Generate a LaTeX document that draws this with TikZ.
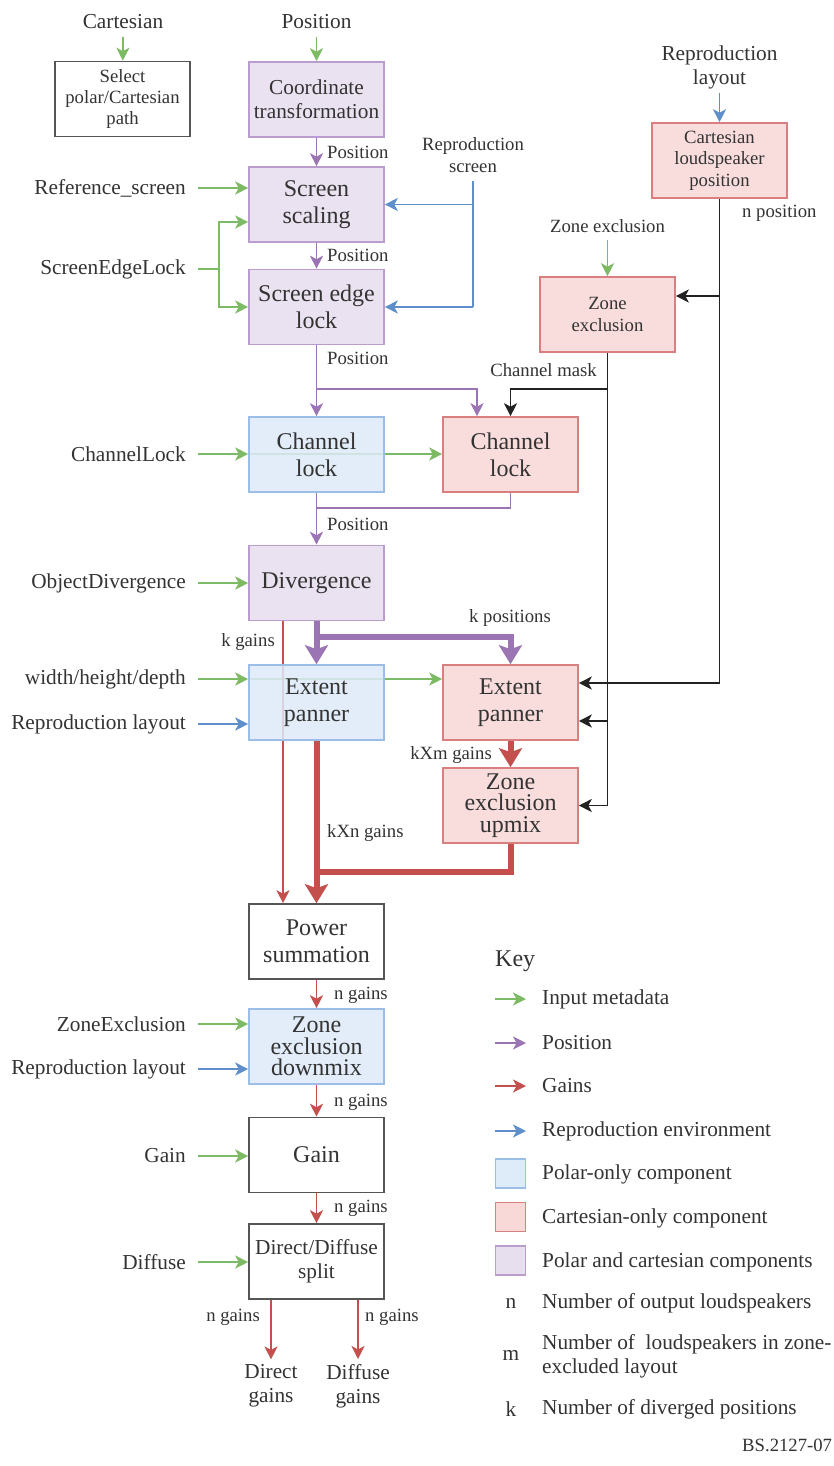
\documentclass[tikz,border=0pt]{standalone}
\usepackage{fontspec}
\setmainfont{Liberation Serif}
\usetikzlibrary{arrows.meta,backgrounds}

\definecolor{txt}{HTML}{333333}
\definecolor{gIn}{HTML}{7CBB63}
\definecolor{pPos}{HTML}{9B74B4}
\definecolor{rGain}{HTML}{C4504D}
\definecolor{bEnv}{HTML}{5E8FCB}
\definecolor{kBlk}{HTML}{222222}
\definecolor{polFill}{HTML}{DEEBF9}
\definecolor{polDraw}{HTML}{9CBDE5}
\definecolor{carFill}{HTML}{F9D8D8}
\definecolor{carDraw}{HTML}{DA7F7F}
\definecolor{bothFill}{HTML}{E7DEEE}
\definecolor{bothDraw}{HTML}{BA9CCD}
\definecolor{plainDraw}{HTML}{555555}

\newcommand\fBig{\fontsize{24}{26.7}\selectfont}
\newcommand\fTight{\fontsize{24}{21.7}\selectfont}
\newcommand\fMid{\fontsize{21.3}{24}\selectfont}
\newcommand\fSm{\fontsize{18.7}{21.3}\selectfont}

\tikzset{
  box/.style={rectangle, minimum width=135pt, minimum height=75pt, inner sep=0pt,
    align=center, line width=1.6pt, font=\fBig, text=txt,
    fill opacity=0.85, text opacity=1},
  polar/.style={box, draw=polDraw, fill=polFill},
  cart/.style={box, draw=carDraw, fill=carFill},
  both/.style={box, draw=bothDraw, fill=bothFill},
  plain/.style={box, draw=plainDraw, fill=white},
  swatch/.style={rectangle, minimum width=30pt, minimum height=29pt, inner sep=0pt, line width=1.6pt},
  lbl/.style={font=\fMid, text=txt, inner sep=0pt, align=center},
  slbl/.style={font=\fSm, text=txt, inner sep=0pt, align=center},
  thinline/.style={line width=1.8pt},
  arr/.style={thinline, -{Stealth[length=13pt,width=13pt,inset=3.5pt]}},
  fatline/.style={line width=6pt},
  fat/.style={fatline, -{Stealth[length=19pt,width=23pt,inset=4pt]}},
}

\begin{document}
\begin{tikzpicture}[x=1pt,y=-1pt]
\path[use as bounding box] (0,0) rectangle (833,1466);

% ---- processing blocks ----
\node[plain, font=\fSm] (pathsel) at (122.5,99) {Select\\polar/Cartesian\\path};
\node[both, font=\fMid] (coord) at (316.5,99.5) {Coordinate\\transformation};
\node[both] (scale) at (316.5,204.5) {Screen\\scaling};
\node[both] (edge) at (316.5,307) {Screen edge\\lock};
\node[polar] (chP) at (316.5,454.5) {Channel\\lock};
\node[cart] (chC) at (510.5,454.5) {Channel\\lock};
\node[both] (div) at (316.5,583) {Divergence};
\node[polar] (extP) at (316.5,702.5) {Extent\\panner};
\node[cart] (extC) at (510.5,702.5) {Extent\\panner};
\node[cart, font=\fTight] (upmix) at (510.5,805.5) {Zone\\exclusion\\upmix};
\node[plain] (psum) at (316.5,941.5) {Power\\summation};
\node[polar, font=\fTight] (dmix) at (316.5,1046.5) {Zone\\exclusion\\downmix};
\node[plain] (gain) at (316.5,1155) {Gain};
\node[plain, font=\fMid] (split) at (316.5,1261.5) {Direct/Diffuse\\split};
\node[cart, font=\fSm] (spk) at (719.5,160.5) {Cartesian\\loudspeaker\\position};
\node[cart, font=\fSm] (zexc) at (607.5,314.5) {Zone\\exclusion};

% ---- inputs ----
\node[lbl] (inCart) at (123,22) {Cartesian};
\node[lbl] (inPos) at (316.5,22) {Position};
\node[lbl, anchor=east] (inRef) at (186,188) {Reference\_screen};
\node[lbl, anchor=east] (inSEL) at (186,269) {ScreenEdgeLock};
\node[lbl, anchor=east] (inCL) at (186,454) {ChannelLock};
\node[lbl, anchor=east] (inOD) at (186,583) {ObjectDivergence};
\node[lbl, anchor=east] (inWHD) at (186,679) {width/height/depth};
\node[lbl, anchor=east] (inRL1) at (186,724) {Reproduction layout};
\node[lbl, anchor=east] (inZE) at (186,1024) {ZoneExclusion};
\node[lbl, anchor=east] (inRL2) at (186,1069) {Reproduction layout};
\node[lbl, anchor=east] (inGain) at (186,1156) {Gain};
\node[lbl, anchor=east] (inDiff) at (186,1262) {Diffuse};
\node[lbl] (inRL3) at (719.5,67) {Reproduction\\layout};
\node[slbl] (inRS) at (473,155) {Reproduction\\screen};
\node[slbl] (inZone) at (607.5,226) {Zone exclusion};

% ---- outputs ----
\node[lbl] (outD) at (271,1386) {Direct\\gains};
\node[lbl] (outF) at (358,1386) {Diffuse\\gains};

% ---- connector labels ----
\node[slbl, anchor=west] (lP1) at (327,152) {Position};
\node[slbl, anchor=west] (lP2) at (327,255) {Position};
\node[slbl, anchor=west] (lP3) at (327,358) {Position};
\node[slbl, anchor=west] (lP4) at (327,524) {Position};
\node[slbl] (lKP) at (510,618) {k positions};
\node[slbl, anchor=east] (lKG) at (275,642) {k gains};
\node[slbl, anchor=east] (lKXM) at (492,755) {kXm gains};
\node[slbl, anchor=west] (lKXN) at (327,833) {kXn gains};
\node[slbl, anchor=west] (lN1) at (334,995) {n gains};
\node[slbl, anchor=west] (lN2) at (334,1102) {n gains};
\node[slbl, anchor=west] (lN3) at (334,1208) {n gains};
\node[slbl, anchor=east] (lN4) at (260,1317) {n gains};
\node[slbl, anchor=west] (lN5) at (365,1317) {n gains};
\node[slbl, anchor=east] (lCM) at (597,370) {Channel mask};
\node[slbl, anchor=west] (lNP) at (742,213) {n position};

% ---- free ends and junctions ----
\coordinate (tCart) at (123,37);
\coordinate (tPos) at (316.5,37);
\coordinate (tRL3) at (719.5,93);
\coordinate (tRS) at (473,181);
\coordinate (tZone) at (607.5,240);
\coordinate (jSEL) at (219,269);
\coordinate (jRS1) at (473,204.5);
\coordinate (jRS2) at (473,307);
\coordinate (jP1) at (316.5,389);
\coordinate (jP2) at (316.5,508);
\coordinate (jP3) at (316.5,637);
\coordinate (jR) at (316.5,872);
\coordinate (jK1) at (719.5,296);
\coordinate (jK2) at (719.5,683);
\coordinate (jM1) at (607.5,389);
\coordinate (jM2) at (607.5,721);

\begin{scope}[on background layer]
  \fill[white] (0,0) rectangle (833,1466);
  % input metadata
  \draw[arr, gIn] (tCart) -- (pathsel);
  \draw[arr, gIn] (tPos) -- (coord);
  \draw[arr, gIn] (tZone) -- (zexc);
  \draw[arr, gIn] ([xshift=12pt]inRef.east) -- (inRef.east -| scale.west);
  \draw[thinline, gIn] ([xshift=12pt]inSEL.east) -- (jSEL);
  \draw[arr, gIn] (jSEL) |- ([yshift=-17.5pt]scale.west);
  \draw[arr, gIn] (jSEL) |- (edge.west);
  \draw[arr, gIn] ([xshift=12pt]inCL.east) -- (inCL.east -| chP.west);
  \draw[arr, gIn] (inCL.east -| chP.west) -- (inCL.east -| chC.west);
  \draw[arr, gIn] ([xshift=12pt]inOD.east) -- (inOD.east -| div.west);
  \draw[arr, gIn] ([xshift=12pt]inWHD.east) -- (inWHD.east -| extP.west);
  \draw[arr, gIn] (inWHD.east -| extP.west) -- (inWHD.east -| extC.west);
  \draw[arr, gIn] ([xshift=12pt]inZE.east) -- (inZE.east -| dmix.west);
  \draw[arr, gIn] ([xshift=12pt]inGain.east) -- (inGain.east -| gain.west);
  \draw[arr, gIn] ([xshift=12pt]inDiff.east) -- (inDiff.east -| split.west);

  % reproduction environment
  \draw[arr, bEnv] (tRL3) -- (spk);
  \draw[thinline, bEnv] (tRS) -- (jRS2);
  \draw[arr, bEnv] (jRS1) -- (jRS1 -| scale.east);
  \draw[arr, bEnv] (jRS2) -- (jRS2 -| edge.east);
  \draw[arr, bEnv] ([xshift=12pt]inRL1.east) -- (inRL1.east -| extP.west);
  \draw[arr, bEnv] ([xshift=12pt]inRL2.east) -- (inRL2.east -| dmix.west);

  % positions
  \draw[arr, pPos] (coord) -- (scale);
  \draw[arr, pPos] (scale) -- (edge);
  \draw[arr, pPos] (edge) -- (chP);
  \draw[arr, pPos] (jP1) -| ([xshift=-33.5pt]chC.north);
  \draw[thinline, pPos] (chC.south) |- (jP2);
  \draw[arr, pPos] (chP) -- (div);
  \draw[fat, pPos] (div) -- (extP);
  \draw[fat, pPos] (jP3) -| (extC.north);

  % gains
  \draw[arr, rGain] ([xshift=-33.5pt]div.south) -- ([xshift=-33.5pt]psum.north);
  \draw[fat, rGain] (extP) -- (psum);
  \draw[fat, rGain] (extC) -- (upmix);
  \draw[fatline, rGain] (upmix.south) |- (jR);
  \draw[arr, rGain] (psum) -- (dmix);
  \draw[arr, rGain] (dmix) -- (gain);
  \draw[arr, rGain] (gain) -- (split);
  \draw[arr, rGain, shorten >=5pt] ([xshift=-45.5pt]split.south) -- ([xshift=-45.5pt]split.south |- outD.north);
  \draw[arr, rGain, shorten >=5pt] ([xshift=41.5pt]split.south) -- ([xshift=41.5pt]split.south |- outF.north);

  % loudspeaker positions and channel mask
  \draw[thinline, kBlk] (spk.south) -- (jK2);
  \draw[arr, kBlk] (jK1) -- (jK1 -| zexc.east);
  \draw[arr, kBlk] (jK2) -- (jK2 -| extC.east);
  \draw[arr, kBlk] (zexc.south) |- (upmix.east);
  \draw[arr, kBlk] (jM1) -| (chC.north);
  \draw[arr, kBlk] (jM2) -- (jM2 -| extC.east);
\end{scope}

% ---- key ----
\node[anchor=west, font=\fBig, text=txt, inner sep=0pt] (keyT) at (495,961) {Key};
\coordinate (ka1) at (495,999);   \coordinate (kb1) at (526,999);
\coordinate (ka2) at (495,1043);  \coordinate (kb2) at (526,1043);
\coordinate (ka3) at (495,1086);  \coordinate (kb3) at (526,1086);
\coordinate (ka4) at (495,1131);  \coordinate (kb4) at (526,1131);
\draw[arr, gIn] (ka1) -- (kb1);
\draw[arr, pPos] (ka2) -- (kb2);
\draw[arr, rGain] (ka3) -- (kb3);
\draw[arr, bEnv] (ka4) -- (kb4);
\node[swatch, draw=polDraw, fill=polFill] (sw1) at (510.5,1173.5) {};
\node[swatch, draw=carDraw, fill=carFill] (sw2) at (510.5,1217) {};
\node[swatch, draw=bothDraw, fill=bothFill] (sw3) at (510.5,1260.5) {};
\node[lbl] (kn) at (511,1303) {n};
\node[lbl] (km) at (511,1355) {m};
\node[lbl] (kk) at (511,1409) {k};
\node[lbl, anchor=west] (kt1) at (542,999) {Input metadata};
\node[lbl, anchor=west] (kt2) at (542,1043) {Position};
\node[lbl, anchor=west] (kt3) at (542,1086) {Gains};
\node[lbl, anchor=west] (kt4) at (542,1131) {Reproduction environment};
\node[lbl, anchor=west] (kt5) at (542,1174) {Polar-only component};
\node[lbl, anchor=west] (kt6) at (542,1218) {Cartesian-only component};
\node[lbl, anchor=west] (kt7) at (542,1262) {Polar and cartesian components};
\node[lbl, anchor=west] (kt8) at (542,1303) {Number of output loudspeakers};
\node[lbl, anchor=west, align=left] (kt9) at (542,1356) {Number of\ \ loudspeakers in zone-\\excluded layout};
\node[lbl, anchor=west] (kt10) at (542,1409) {Number of diverged positions};
\node[slbl, anchor=west] (ref) at (742,1445) {BS.2127-07};
\end{tikzpicture}
\end{document}
